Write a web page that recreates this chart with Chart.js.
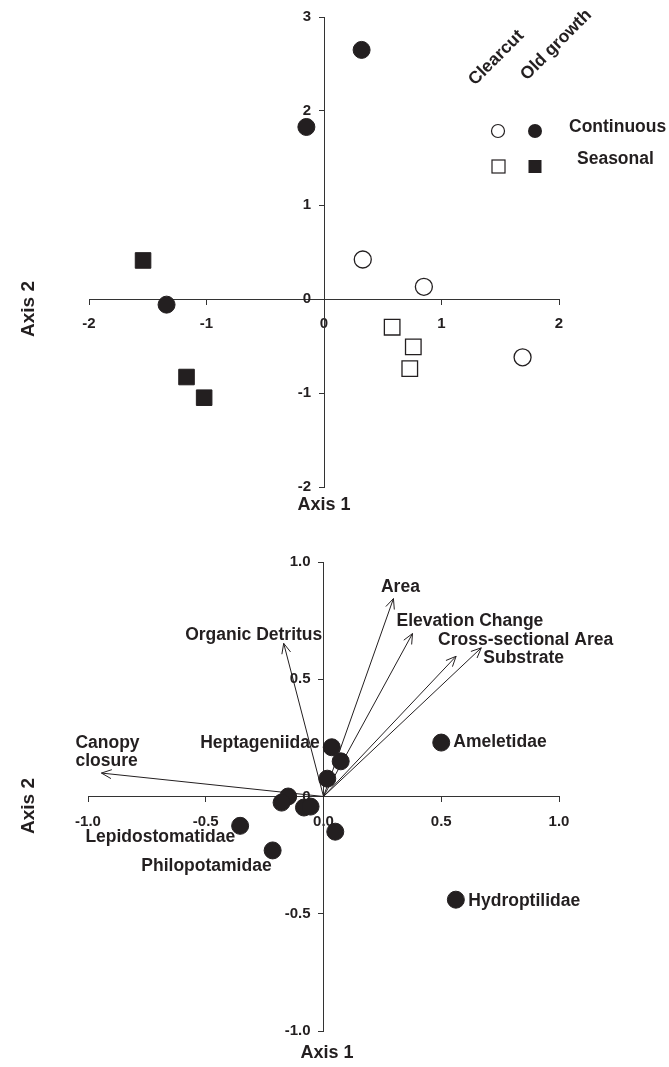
<!DOCTYPE html>
<html>
<head>
<meta charset="utf-8">
<script src="https://cdn.jsdelivr.net/npm/chart.js@4.4.1/dist/chart.umd.min.js"></script>
<style>
  body { margin: 0; background: #fff; }
  canvas { display: block; }
</style>
</head>
<body>
<canvas id="grafica-sitios" width="669" height="520"></canvas>
<canvas id="grafica-taxones" width="669" height="547"></canvas>
<script>
// ---- datos: sitios (arriba) ----
const clearcutContX = [0.33, 0.85, 1.69];
const clearcutContY = [0.42, 0.13, -0.62];
const oldContX = [0.32, -0.15, -1.34];
const oldContY = [2.65, 1.83, -0.06];
const clearcutEstX = [0.58, 0.76, 0.73];
const clearcutEstY = [-0.30, -0.51, -0.74];
const oldEstX = [-1.54, -1.17, -1.02];
const oldEstY = [0.41, -0.83, -1.05];
const ticksSitiosX = [-2, -1, 0, 1, 2];
const ticksSitiosY = [-2, -1, 0, 1, 2, 3];

// ---- datos: taxones y variables (abajo) ----
const taxones = ['Heptageniidae', '', '', 'Ameletidae', '', '', '', '', 'Lepidostomatidae', 'Philopotamidae', '', 'Hydroptilidae'];
const taxonX = [0.035, 0.073, 0.016, 0.50, -0.15, -0.178, -0.083, -0.055, -0.354, -0.216, 0.05, 0.562];
const taxonY = [0.21, 0.15, 0.076, 0.23, 0.0, -0.026, -0.047, -0.043, -0.125, -0.23, -0.15, -0.44];
const variables = ['Canopy closure', 'Organic Detritus', 'Area', 'Elevation Change', 'Cross-sectional Area', 'Substrate'];
const variableX = [-0.943, -0.169, 0.297, 0.378, 0.563, 0.670];
const variableY = [0.100, 0.653, 0.844, 0.695, 0.598, 0.634];
const ticksTaxones = [-1, -0.5, 0, 0.5, 1];
const etiquetasTaxonesX = ['-1.0', '-0.5', '0.0', '0.5', '1.0'];
const etiquetasTaxonesY = ['-1.0', '-0.5', '0', '0.5', '1.0'];

const FUENTE = "'Liberation Sans', Arial, sans-serif";
const NEGRO = '#231f20';

const puntos = (xs, ys) => xs.map((x, i) => ({ x: x, y: ys[i] }));

function texto(ctx, str, x, y, size, align, rot) {
  ctx.save();
  ctx.font = 'bold ' + size + 'px ' + FUENTE;
  ctx.fillStyle = NEGRO;
  ctx.textAlign = align || 'left';
  ctx.textBaseline = rot ? 'alphabetic' : 'middle';
  ctx.translate(x, y);
  if (rot) ctx.rotate(rot);
  ctx.fillText(str, 0, 0);
  ctx.restore();
}

// eje x cruza en y=0, eje y va al centro (x=0 queda en medio)
function ejes(valores, etiquetas, posicion) {
  return {
    type: 'linear',
    position: posicion,
    min: valores[0],
    max: valores[valores.length - 1],
    afterBuildTicks: s => { s.ticks = valores.map(v => ({ value: v })); },
    ticks: {
      color: NEGRO,
      font: { family: FUENTE, size: 15, weight: 'bold' },
      padding: posicion === 'center' ? 8 : 11,
      callback: (v, i) => etiquetas[i]
    },
    grid: { drawOnChartArea: false, drawTicks: true, tickLength: 5, tickColor: '#333' },
    border: { color: '#333', width: 1 }
  };
}

// ---------- grafica de arriba ----------
const plugSitios = {
  id: 'textosSitios',
  afterDraw(chart) {
    const ctx = chart.ctx;
    texto(ctx, 'Axis 2', 34, 309, 19, 'center', -Math.PI / 2);
    texto(ctx, 'Axis 1', 324, 505, 18, 'center');
    // leyenda
    texto(ctx, 'Clearcut', 475, 86, 17.5, 'left', -Math.PI / 4);
    texto(ctx, 'Old growth', 527, 81, 17.5, 'left', -Math.PI / 4);
    ctx.save();
    ctx.lineWidth = 1.2;
    ctx.strokeStyle = NEGRO;
    ctx.fillStyle = '#fff';
    ctx.beginPath(); ctx.arc(498, 131, 6.5, 0, Math.PI * 2); ctx.fill(); ctx.stroke();
    ctx.fillRect(492, 160, 13, 13); ctx.strokeRect(492, 160, 13, 13);
    ctx.fillStyle = NEGRO;
    ctx.beginPath(); ctx.arc(535, 131, 7, 0, Math.PI * 2); ctx.fill();
    ctx.fillRect(528.5, 160, 13, 13);
    ctx.restore();
    texto(ctx, 'Continuous', 569, 127, 17.5, 'left');
    texto(ctx, 'Seasonal', 577, 159, 17.5, 'left');
  }
};

new Chart(document.getElementById('grafica-sitios'), {
  type: 'scatter',
  data: {
    datasets: [
      { label: 'Clearcut Continuous', data: puntos(clearcutContX, clearcutContY), pointStyle: 'circle', pointRadius: 8.5, backgroundColor: '#fff', borderColor: NEGRO, borderWidth: 1.3 },
      { label: 'Old growth Continuous', data: puntos(oldContX, oldContY), pointStyle: 'circle', pointRadius: 8.5, backgroundColor: NEGRO, borderColor: NEGRO, borderWidth: 1 },
      { label: 'Clearcut Seasonal', data: puntos(clearcutEstX, clearcutEstY), pointStyle: 'rect', pointRadius: 11, backgroundColor: '#fff', borderColor: NEGRO, borderWidth: 1.3 },
      { label: 'Old growth Seasonal', data: puntos(oldEstX, oldEstY), pointStyle: 'rect', pointRadius: 11, backgroundColor: NEGRO, borderColor: NEGRO, borderWidth: 1 }
    ]
  },
  options: {
    responsive: false,
    animation: false,
    layout: { padding: { left: 89, right: 110, top: 14, bottom: 33 } },
    scales: {
      x: ejes(ticksSitiosX, ticksSitiosX.map(String), { y: 0 }),
      y: ejes(ticksSitiosY, ticksSitiosY.map(String), 'center')
    },
    plugins: { legend: { display: false }, tooltip: { enabled: false } }
  },
  plugins: [plugSitios]
});

// ---------- grafica de abajo ----------
// donde va cada nombre respecto a su punto: [dx, dy, alineacion]
const lugarTaxon = {
  'Heptageniidae': [-12, -4, 'right'],
  'Ameletidae': [12, 0, 'left'],
  'Lepidostomatidae': [-5, 11, 'right'],
  'Philopotamidae': [-1, 16, 'right'],
  'Hydroptilidae': [12.5, 1, 'left']
};
const lugarVariable = {
  'Canopy closure': [-26, -30, 'left'],
  'Organic Detritus': [-30, -8, 'center'],
  'Area': [7, -11, 'center'],
  'Elevation Change': [-16, -12, 'left'],
  'Cross-sectional Area': [-18, -16, 'left'],
  'Substrate': [2, 10, 'left']
};

const plugTaxones = {
  id: 'textosTaxones',
  afterDatasetsDraw(chart) {
    // puntas de flecha abiertas
    const ctx = chart.ctx;
    const sx = chart.scales.x, sy = chart.scales.y;
    const ox = sx.getPixelForValue(0), oy = sy.getPixelForValue(0);
    ctx.save();
    ctx.strokeStyle = NEGRO;
    ctx.lineWidth = 1;
    variables.forEach((v, i) => {
      const px = sx.getPixelForValue(variableX[i]);
      const py = sy.getPixelForValue(variableY[i]);
      const ang = Math.atan2(py - oy, px - ox);
      ctx.beginPath();
      [0.42, -0.42].forEach(d => {
        ctx.moveTo(px, py);
        ctx.lineTo(px - 11 * Math.cos(ang + d), py - 11 * Math.sin(ang + d));
      });
      ctx.stroke();
    });
    ctx.restore();
  },
  afterDraw(chart) {
    const ctx = chart.ctx;
    const sx = chart.scales.x, sy = chart.scales.y;
    texto(ctx, 'Axis 2', 34, 286, 19, 'center', -Math.PI / 2);
    texto(ctx, 'Axis 1', 327, 533, 18, 'center');
    taxones.forEach((t, i) => {
      if (!t) return;
      const l = lugarTaxon[t];
      texto(ctx, t, sx.getPixelForValue(taxonX[i]) + l[0], sy.getPixelForValue(taxonY[i]) + l[1], 17.5, l[2]);
    });
    variables.forEach((v, i) => {
      const l = lugarVariable[v];
      const px = sx.getPixelForValue(variableX[i]) + l[0];
      const py = sy.getPixelForValue(variableY[i]) + l[1];
      if (v === 'Canopy closure') {
        texto(ctx, 'Canopy', px, py, 17.5, l[2]);
        texto(ctx, 'closure', px, py + 18.5, 17.5, l[2]);
      } else {
        texto(ctx, v, px, py, 17.5, l[2]);
      }
    });
  }
};

const flechas = variables.map((v, i) => ({
  label: v,
  data: [{ x: 0, y: 0 }, { x: variableX[i], y: variableY[i] }],
  showLine: true,
  borderColor: NEGRO,
  borderWidth: 1,
  pointRadius: 0,
  order: 2
}));

new Chart(document.getElementById('grafica-taxones'), {
  type: 'scatter',
  data: {
    datasets: [
      { label: 'Taxones', data: puntos(taxonX, taxonY), pointRadius: 8.5, backgroundColor: NEGRO, borderColor: NEGRO, borderWidth: 1, order: 1 }
    ].concat(flechas)
  },
  options: {
    responsive: false,
    animation: false,
    layout: { padding: { left: 88, right: 110, top: 42, bottom: 36 } },
    scales: {
      x: ejes(ticksTaxones, etiquetasTaxonesX, { y: 0 }),
      y: ejes(ticksTaxones, etiquetasTaxonesY, 'center')
    },
    plugins: { legend: { display: false }, tooltip: { enabled: false } }
  },
  plugins: [plugTaxones]
});
</script>
</body>
</html>
